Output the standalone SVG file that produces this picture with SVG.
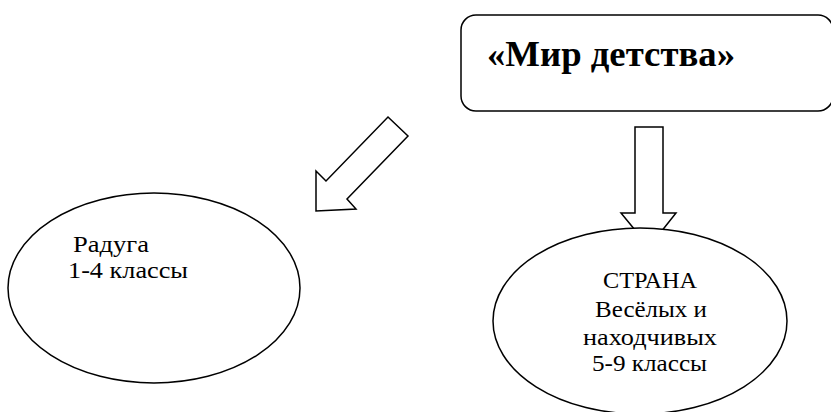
<svg xmlns="http://www.w3.org/2000/svg" width="831" height="412" viewBox="0 0 831 412">
<style>
.shape{fill:#fff;stroke:#000;stroke-width:1.5}
.t{font-family:"Liberation Serif","Times New Roman",serif;font-size:23px;fill:#000}
.title{font-family:"Liberation Serif","Times New Roman",serif;font-size:35px;font-weight:bold;fill:#000}
</style>
<rect width="831" height="412" fill="#fff"/>
<g id="connectors">
<polygon class="shape" points="388,117 408,136 347,199 356,209 316,211 316,171 326,181"/>
<polygon class="shape" points="635,127 663,127 663,213 676,213 649,247 621,213 635,213"/>
</g>
<g id="node-title">
<rect class="shape" x="461" y="15" width="372" height="96" rx="15" ry="15"/>
<text class="title" x="487" y="66" textLength="248" lengthAdjust="spacingAndGlyphs">«Мир детства»</text>
</g>
<g id="node-raduga">
<ellipse class="shape" cx="154" cy="288" rx="146" ry="95"/>
<text class="t" x="73" y="252" textLength="76" lengthAdjust="spacingAndGlyphs">Радуга</text>
<text class="t" x="68" y="278" textLength="120" lengthAdjust="spacingAndGlyphs">1-4 классы</text>
</g>
<g id="node-strana">
<ellipse class="shape" cx="640" cy="321" rx="147" ry="93"/>
<text class="t" x="603" y="288" textLength="94" lengthAdjust="spacingAndGlyphs">СТРАНА</text>
<text class="t" x="595" y="317" textLength="112" lengthAdjust="spacingAndGlyphs">Весёлых и</text>
<text class="t" x="583" y="345" textLength="134" lengthAdjust="spacingAndGlyphs">находчивых</text>
<text class="t" x="592" y="371" textLength="115" lengthAdjust="spacingAndGlyphs">5-9 классы</text>
</g>
</svg>
